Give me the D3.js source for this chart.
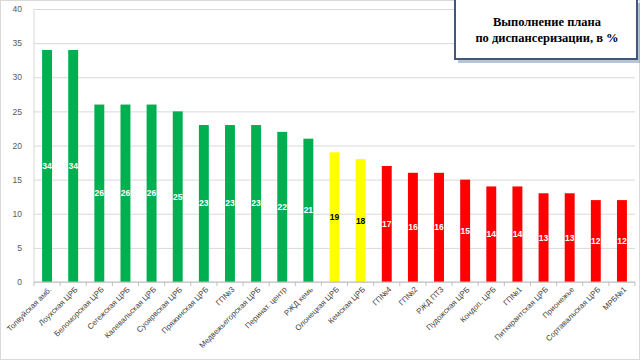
<!DOCTYPE html>
<html>
<head>
<meta charset="utf-8">
<script src="https://cdn.jsdelivr.net/npm/d3@7"></script>
<style>
  body { margin: 0; background: #fff; }
  svg { display: block; }
</style>
</head>
<body>
<div id="chart"></div>
<script>
// data
const categories = ["Толвуйская амб.", "Лоухская ЦРБ", "Беломорская ЦРБ", "Сегежская ЦРБ",
  "Калевальская ЦРБ", "Суоярвская ЦРБ", "Пряжинская ЦРБ", "ГП№3", "Медвежьегорская ЦРБ",
  "Перинат. центр", "РЖД кемь", "Олонецкая ЦРБ", "Кемская ЦРБ", "ГП№4", "ГП№2", "РЖД ПТЗ",
  "Пудожская ЦРБ", "Кондоп. ЦРБ", "ГП№1", "Питкярантская ЦРБ", "Прионежье",
  "Сортавальская ЦРБ", "МРБ№1"];
const values = [34, 34, 26, 26, 26, 25, 23, 23, 23, 22, 21, 19, 18, 17, 16, 16, 15, 14, 14, 13, 13, 12, 12];
const groups = ["g", "g", "g", "g", "g", "g", "g", "g", "g", "g", "g", "y", "y",
  "r", "r", "r", "r", "r", "r", "r", "r", "r", "r"];
const yTicks = [0, 5, 10, 15, 20, 25, 30, 35, 40];
const titleLines = ["Выполнение плана", "по диспансеризации, в %"];

const W = 640, H = 360;
const margin = {top: 9, right: 5, bottom: 78, left: 34},
  width = W - margin.left - margin.right,
  height = H - margin.top - margin.bottom;

const fillOf = {g: "#00b050", y: "#ffff00", r: "#ff0000"};
const labelOf = {g: "#ffffff", y: "#000000", r: "#ffffff"};

const svg = d3.select("#chart").append("svg")
  .attr("width", W).attr("height", H);

// outer frame
svg.append("rect")
  .attr("x", 0.5).attr("y", 0.5).attr("width", W - 1).attr("height", H - 1)
  .attr("fill", "none").attr("stroke", "#d9d9d9");

const g = svg.append("g").attr("transform", `translate(${margin.left},${margin.top})`);

const x = d3.scaleBand().domain(categories).range([0, width]).paddingInner(0.62).paddingOuter(0.31);
const y = d3.scaleLinear().domain([0, 40]).range([height, 0]);

// grid
g.append("g")
  .call(d3.axisLeft(y).tickValues(yTicks).tickSize(-width).tickFormat(""))
  .call(a => a.select(".domain").remove())
  .call(a => a.selectAll("line").attr("stroke", "#d9d9d9"));

// y axis labels
g.append("g")
  .call(d3.axisLeft(y).tickValues(yTicks).tickSize(0).tickPadding(12))
  .call(a => a.select(".domain").remove())
  .call(a => a.selectAll("text")
    .attr("fill", "#595959")
    .style("font", "8.5px 'Liberation Sans', sans-serif"));

// bars
g.selectAll(".bar")
  .data(values)
  .join("rect")
  .attr("class", "bar")
  .attr("x", (d, i) => x(categories[i]))
  .attr("y", d => y(d))
  .attr("width", x.bandwidth())
  .attr("height", d => height - y(d))
  .attr("fill", (d, i) => fillOf[groups[i]]);

// value labels in the middle of each bar
g.selectAll(".val")
  .data(values)
  .join("text")
  .attr("class", "val")
  .attr("x", (d, i) => x(categories[i]) + x.bandwidth() / 2)
  .attr("y", d => (y(d) + height) / 2)
  .attr("dy", "0.35em")
  .attr("text-anchor", "middle")
  .attr("fill", (d, i) => labelOf[groups[i]])
  .style("font", "bold 8.5px 'Liberation Sans', sans-serif")
  .text(d => d);

// x axis baseline and ticks between categories
const step = x.step();
g.append("line")
  .attr("x1", 0).attr("x2", width)
  .attr("y1", height).attr("y2", height)
  .attr("stroke", "#bfbfbf");
g.selectAll(".xtick")
  .data(d3.range(categories.length + 1))
  .join("line")
  .attr("class", "xtick")
  .attr("x1", i => i * step).attr("x2", i => i * step)
  .attr("y1", height).attr("y2", height + 4)
  .attr("stroke", "#bfbfbf");
g.append("line")
  .attr("x1", 0).attr("x2", 0).attr("y1", height).attr("y2", 0)
  .attr("stroke", "#d9d9d9");

// category labels, rotated
g.selectAll(".cat")
  .data(categories)
  .join("text")
  .attr("class", "cat")
  .attr("transform", d => `translate(${x(d) + x.bandwidth() / 2 + 5},${height + 8}) rotate(-45)`)
  .attr("text-anchor", "end")
  .attr("fill", "#404040")
  .style("font", "7.8px 'Liberation Sans', sans-serif")
  .text(d => d);

// title box
const box = svg.append("g");
box.append("rect")
  .attr("x", 458).attr("y", 3).attr("width", 182).attr("height", 60)
  .attr("fill", "#8a9bb3").attr("opacity", 0.6);
box.append("rect")
  .attr("x", 455).attr("y", -2).attr("width", 182).attr("height", 61)
  .attr("fill", "#ffffff").attr("stroke", "#40587a").attr("stroke-width", 2);
box.selectAll("text")
  .data(titleLines)
  .join("text")
  .attr("x", 547)
  .attr("y", (d, i) => 26 + i * 16)
  .attr("text-anchor", "middle")
  .attr("fill", "#000")
  .style("font", "bold 12.5px 'Liberation Serif', 'DejaVu Serif', serif")
  .text(d => d);
</script>
</body>
</html>
